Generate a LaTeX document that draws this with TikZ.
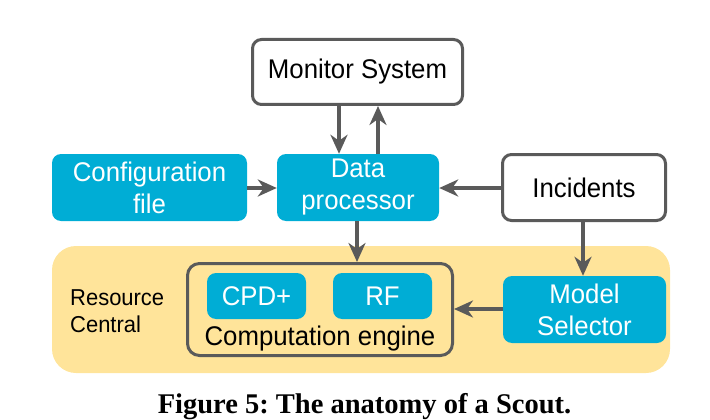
\documentclass[tikz,border=0pt]{standalone}
\usepackage{fontspec}
\setmainfont[FakeStretch=0.955]{Liberation Sans}
\newfontfamily\capfont{Liberation Serif}
\usetikzlibrary{arrows.meta}
\definecolor{scyan}{RGB}{0,173,213}
\definecolor{syellow}{RGB}{255,228,154}
\definecolor{sgray}{RGB}{90,90,90}
\tikzset{
  boxfont/.style={font=\fontsize{27}{32}\selectfont},
  whitebox/.style={boxfont, draw=sgray, line width=3pt, fill=white, rounded corners=9pt, inner sep=0pt, align=center, text=black},
  cyanbox/.style={boxfont, fill=scyan, rounded corners=9pt, inner sep=0pt, align=center, text=white},
  arr/.style={draw=sgray, line width=3.3pt, -{Stealth[length=19pt,width=17pt,inset=6pt]}},
}
\begin{document}
\begin{tikzpicture}[x=1pt,y=-1pt]
\useasboundingbox (0,0) rectangle (710,420);
% yellow region
\node[fill=syellow, rounded corners=24pt, minimum width=618pt, minimum height=127pt, inner sep=0pt] (rc) at (361,309.5) {};
\node[font=\fontsize{23}{27}\selectfont, align=left, anchor=west, inner sep=0pt] (rclabel) at (70,311) {Resource\\Central};
% boxes
\node[whitebox, minimum width=210pt, minimum height=65pt] (mon) at (357.5,72) {Monitor System};
\node[cyanbox, minimum width=195pt, minimum height=67pt] (cfg) at (149.5,187.5) {Configuration\\file};
\node[cyanbox, minimum width=162pt, minimum height=67pt] (dp) at (358,187.5) {Data\\processor};
\node[whitebox, minimum width=163pt, minimum height=66pt] (inc) at (584,187.5) {Incidents};
\node[draw=sgray, line width=3pt, rounded corners=12pt, minimum width=265pt, minimum height=92pt, inner sep=0pt] (ce) at (320,309.5) {};
\node[boxfont, anchor=base, inner sep=0pt] (celabel) at (320,345) {Computation engine};
\node[cyanbox, minimum width=99pt, minimum height=46pt] (cpd) at (256.5,296) {CPD+};
\node[cyanbox, minimum width=99pt, minimum height=46pt] (rf) at (382.5,296) {RF};
\node[cyanbox, minimum width=163pt, minimum height=67pt] (ms) at (584.5,309.5) {Model\\Selector};
% connectors
\draw[arr] ([xshift=-18.5pt]mon.south) -- ([xshift=-18.5pt]mon.south |- dp.north);
\draw[arr] ([xshift=20pt]dp.north) -- ([xshift=20pt]dp.north |- mon.south);
\draw[arr] (cfg.east |- 0,188) -- (dp.west |- 0,188);
\draw[arr] (inc.west |- 0,188) -- (dp.east |- 0,188);
\draw[arr] ([xshift=-1pt]dp.south) -- ([xshift=-1pt]dp.south |- ce.north);
\draw[arr] ([xshift=-1pt]inc.south) -- ([xshift=-1pt]inc.south |- ms.north);
\draw[arr] (ms.west |- 0,309) -- (ce.east |- 0,309);
% caption
\node[font=\capfont\bfseries\fontsize{28.5}{34}\selectfont, anchor=base, inner sep=0pt] (cap) at (364.5,413) {\frenchspacing Figure 5: The anatomy of a Scout.};
\end{tikzpicture}
\end{document}
